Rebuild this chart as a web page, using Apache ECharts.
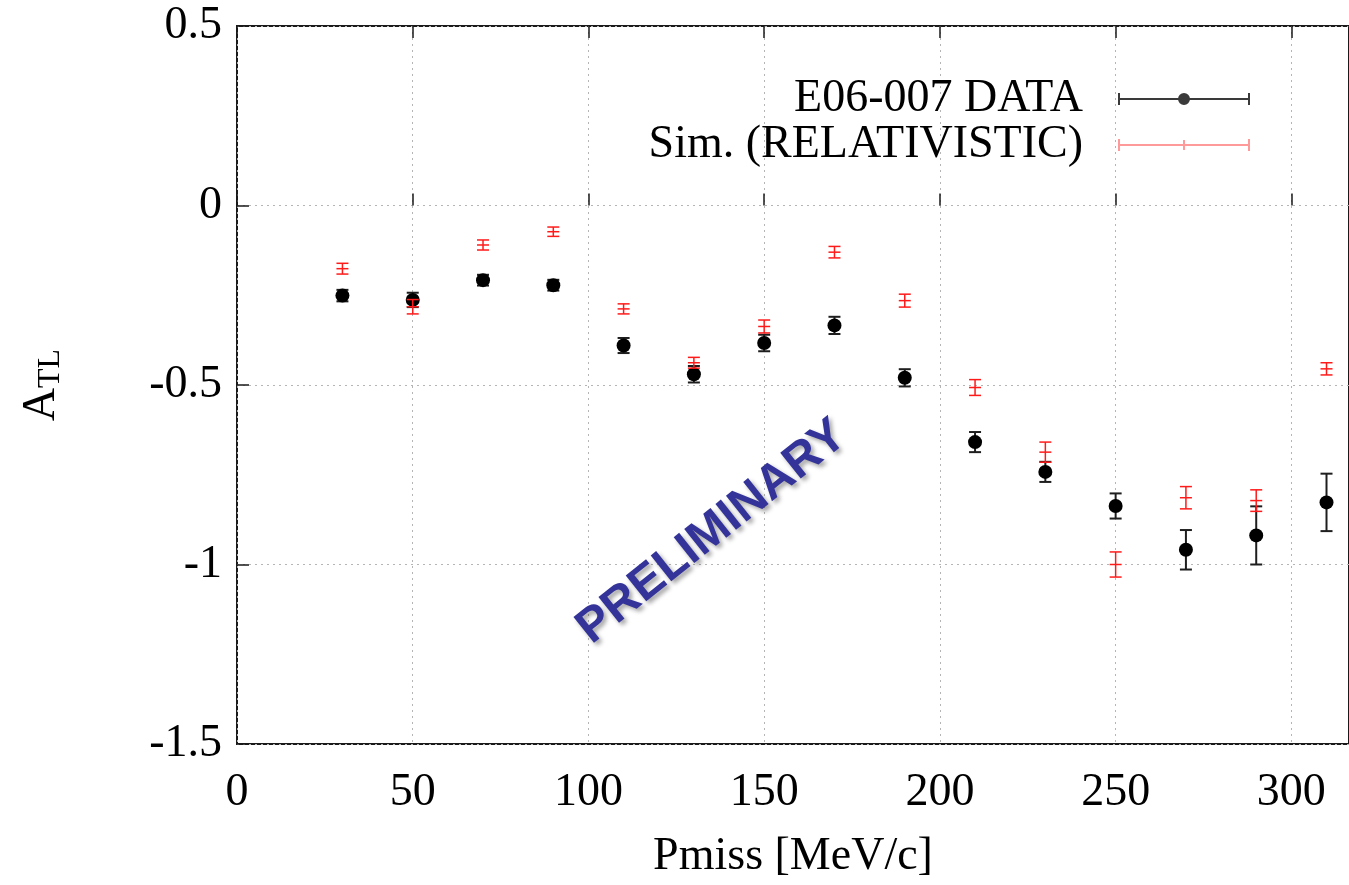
<!DOCTYPE html>
<html>
<head>
<meta charset="utf-8">
<script src="https://cdn.jsdelivr.net/npm/echarts@6/dist/echarts.min.js"></script>
<style>
  html, body { margin: 0; padding: 0; background: #ffffff; }
  #chart { width: 1349px; height: 885px; }
</style>
</head>
<body>
<div id="chart"></div>
<script>
// ---- data ----
const pmiss   = [30, 50, 70, 90, 110, 130, 150, 170, 190, 210, 230, 250, 270, 290, 310];
const dataA   = [-0.251, -0.263, -0.208, -0.222, -0.390, -0.470, -0.383, -0.334, -0.480, -0.659, -0.742, -0.837, -0.959, -0.919, -0.827];
const dataErr = [0.016, 0.020, 0.015, 0.015, 0.021, 0.023, 0.023, 0.024, 0.024, 0.028, 0.028, 0.035, 0.055, 0.081, 0.080];
const simA    = [-0.176, -0.282, -0.110, -0.073, -0.288, -0.438, -0.337, -0.130, -0.265, -0.507, -0.687, -1.000, -0.814, -0.822, -0.455];
const simErr  = [0.015, 0.020, 0.014, 0.013, 0.014, 0.015, 0.018, 0.016, 0.018, 0.022, 0.028, 0.035, 0.031, 0.030, 0.017];
const dataName = 'E06-007 DATA';
const simName  = 'Sim. (RELATIVISTIC)';
const xTitle = 'Pmiss [MeV/c]';
const watermark = 'PRELIMINARY';

const SERIF = "'Liberation Serif', 'Times New Roman', serif";
const FS = 46;

const chart = echarts.init(document.getElementById('chart'), null, { renderer: 'canvas' });

function errRender(color, width, capHalf) {
  return function (params, api) {
    const x = api.value(0), y = api.value(1), e = api.value(2);
    const top = api.coord([x, y + e]);
    const bot = api.coord([x, y - e]);
    const style = { stroke: color, lineWidth: width, fill: null };
    return {
      type: 'group',
      children: [
        { type: 'line', shape: { x1: top[0], y1: top[1], x2: bot[0], y2: bot[1] }, style: style },
        { type: 'line', shape: { x1: top[0] - capHalf, y1: top[1], x2: top[0] + capHalf, y2: top[1] }, style: style },
        { type: 'line', shape: { x1: bot[0] - capHalf, y1: bot[1], x2: bot[0] + capHalf, y2: bot[1] }, style: style }
      ]
    };
  };
}

const dataTriples = pmiss.map((x, i) => [x, dataA[i], dataErr[i]]);
const simTriples  = pmiss.map((x, i) => [x, simA[i], simErr[i]]);
const dataPts = pmiss.map((x, i) => [x, dataA[i]]);
const simPts  = pmiss.map((x, i) => [x, simA[i]]);

const blackIcon = 'path://M0,0 H2 V12 H0 Z M130,0 H132 V12 H130 Z M0,5 H132 V7 H0 Z M60,6 A6,6 0 1 1 72,6 A6,6 0 1 1 60,6 Z';
const redIcon   = 'path://M0,0 H2 V12 H0 Z M130,0 H132 V12 H130 Z M0,5 H132 V7 H0 Z M65,1 H67 V11 H65 Z';

const xCommon = {
  type: 'value', min: 0, max: 316.4, interval: 50
};

chart.setOption({
  animation: false,
  backgroundColor: '#ffffff',
  grid: {
    left: 237, top: 26, width: 1115, height: 725,
    show: true, borderColor: '#1a1a1a', borderWidth: 2, backgroundColor: 'transparent'
  },
  legend: {
    orient: 'vertical',
    align: 'right',
    right: 99,
    top: 76,
    padding: 0,
    itemGap: 0,
    itemWidth: 132,
    itemHeight: 12,
    selectedMode: false,
    textStyle: { fontFamily: SERIF, fontSize: FS, color: '#000', lineHeight: 44, padding: [0, 30, 0, 0] },
    data: [
      { name: dataName, icon: blackIcon, itemStyle: { color: '#3a3a3a' } },
      { name: simName, icon: redIcon, itemStyle: { color: '#ff9a9a' } }
    ]
  },
  xAxis: [
    Object.assign({}, xCommon, {
      position: 'bottom',
      name: xTitle,
      nameLocation: 'middle',
      nameGap: 90,
      nameTextStyle: { fontFamily: SERIF, fontSize: FS, color: '#000' },
      axisLine: { show: false },
      axisTick: { show: true, inside: true, length: 12, lineStyle: { color: '#1a1a1a', width: 1.5 } },
      axisLabel: {
        show: true, margin: 26, fontFamily: SERIF, fontSize: FS, color: '#000',
        showMaxLabel: false,
        formatter: function (v) { return (Math.abs(v % 50) < 1e-9) ? String(v) : ''; }
      },
      splitLine: { show: true, lineStyle: { color: '#b5b5b5', type: [2, 4], width: 1 } }
    }),
    Object.assign({}, xCommon, {
      position: 'top',
      axisLine: { show: false },
      axisTick: { show: true, inside: true, length: 12, lineStyle: { color: '#1a1a1a', width: 1.5 } },
      axisLabel: { show: false },
      splitLine: { show: false }
    })
  ],
  yAxis: {
    type: 'value', min: -1.5, max: 0.5, interval: 0.5,
    name: '{a|A}{s|TL}',
    nameLocation: 'middle',
    nameGap: 170,
    nameRotate: 90,
    nameTextStyle: {
      color: '#000',
      rich: {
        a: { fontFamily: SERIF, fontSize: FS, color: '#000' },
        s: { fontFamily: SERIF, fontSize: 32, color: '#000', padding: [18, 0, 0, 0] }
      }
    },
    axisLine: { show: false },
    axisTick: { show: true, inside: true, length: 12, lineStyle: { color: '#1a1a1a', width: 1.5 } },
    axisLabel: { margin: 15, fontFamily: SERIF, fontSize: FS, color: '#000' },
    splitLine: { show: true, lineStyle: { color: '#b5b5b5', type: [2, 4], width: 1 } }
  },
  graphic: [
    {
      type: 'text',
      x: 712, y: 532,
      rotation: 38.5 * Math.PI / 180,
      z: 1,
      style: {
        text: watermark,
        fontFamily: "'Liberation Sans', Arial, sans-serif",
        fontWeight: 'bold',
        fontSize: 48,
        fill: '#333399',
        align: 'center',
        verticalAlign: 'middle',
        textShadowColor: 'rgba(0,0,0,0.35)',
        textShadowBlur: 4,
        textShadowOffsetX: 3,
        textShadowOffsetY: 3
      }
    }
  ],
  series: [
    {
      name: dataName,
      type: 'custom',
      xAxisIndex: 0,
      renderItem: errRender('#1e1e1e', 2, 6),
      encode: { x: 0, y: 1 },
      data: dataTriples,
      z: 3
    },
    {
      name: dataName,
      type: 'scatter',
      xAxisIndex: 0,
      symbol: 'circle',
      symbolSize: 14,
      itemStyle: { color: '#000000', opacity: 1 },
      data: dataPts,
      z: 4
    },
    {
      name: simName,
      type: 'custom',
      xAxisIndex: 0,
      renderItem: errRender('#ff1a1a', 1.5, 6),
      encode: { x: 0, y: 1 },
      data: simTriples,
      z: 5
    },
    {
      name: simName,
      type: 'scatter',
      xAxisIndex: 0,
      symbol: 'rect',
      symbolSize: [12, 1.5],
      itemStyle: { color: '#ff1a1a', opacity: 1 },
      data: simPts,
      z: 6
    }
  ]
});
</script>
</body>
</html>
